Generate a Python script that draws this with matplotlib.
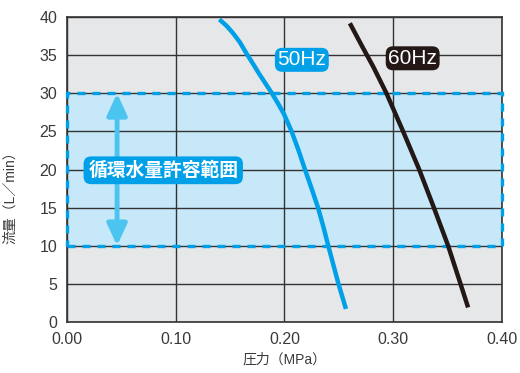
import matplotlib as mpl
mpl.use('Agg')
import matplotlib.pyplot as plt
from matplotlib.patches import Rectangle

plt.rcParams['font.family'] = ['Liberation Sans', 'Noto Sans CJK JP']

# pressure (MPa) vs flow (L/min)
p50 = [0.1401, 0.1465, 0.1527, 0.1590, 0.1652, 0.1710, 0.1770, 0.1830, 0.1885, 0.1940,
       0.1995, 0.2066, 0.2130, 0.2189, 0.2250, 0.2309, 0.2358, 0.2403, 0.2450, 0.2497, 0.2566]
q50 = [39.7, 38.9, 37.9, 36.7, 35.2, 33.9, 32.5, 31.2, 30.0, 28.7,
       27.3, 25.0, 22.5, 20.0, 17.5, 15.0, 12.5, 10.0, 7.5, 5.0, 1.7]
p60 = [0.2602, 0.2710, 0.2817, 0.2939, 0.3092, 0.3240, 0.3375, 0.3506, 0.3620, 0.3690]
q60 = [39.2, 36.3, 33.5, 30.0, 25.0, 20.0, 15.0, 10.0, 5.0, 1.9]

xticks = [0.0, 0.1, 0.2, 0.3, 0.4]
yticks = [0, 5, 10, 15, 20, 25, 30, 35, 40]
band = (10, 30)   # allowed circulating-water range

BLUE = '#00a0e9'
LIGHT = '#c6e8f8'
ARROW = '#4cc4f0'
GRAY = '#e6e7e8'
DARK = '#231815'
TXT = '#3a3a3a'

fig = plt.figure(figsize=(5.2, 3.73), dpi=100)
ax = fig.add_axes([0.129, 0.137, 0.836, 0.817])
ax.set_facecolor(GRAY)
ax.set_xlim(0, 0.4)
ax.set_ylim(0, 40)

ax.add_patch(Rectangle((0, band[0]), 0.4, band[1] - band[0], facecolor=LIGHT,
                       edgecolor='none', zorder=1))

ax.set_xticks(xticks)
ax.set_yticks(yticks)
ax.set_xticklabels(['%.2f' % t for t in xticks])
ax.grid(True, color='#333333', linewidth=1.0, zorder=2)
ax.set_axisbelow(False)
ax.tick_params(length=0, labelsize=11.5, colors=TXT, pad=7)
for s in ax.spines.values():
    s.set_color('#333333')
    s.set_linewidth(1.2)
    s.set_zorder(3)

ax.add_patch(Rectangle((0, band[0]), 0.4, band[1] - band[0], facecolor='none',
                       edgecolor=BLUE, linewidth=2.4, linestyle=(0, (2.4, 2.1)),
                       zorder=4, clip_on=False))

ax.annotate('', xy=(0.046, band[1]), xytext=(0.046, band[0]),
            arrowprops=dict(arrowstyle='<|-|>,head_length=1.3,head_width=0.6',
                            color=ARROW, lw=3.5, shrinkA=0, shrinkB=0), zorder=5)

ax.plot(p50, q50, color=BLUE, linewidth=3.2, solid_capstyle='butt', zorder=6)
ax.plot(p60, q60, color=DARK, linewidth=3.2, solid_capstyle='butt', zorder=6)

ax.text(0.216, 34.4, '50Hz', color='white', fontsize=15, ha='center', va='center',
        zorder=7, bbox=dict(boxstyle='round,pad=0.12,rounding_size=0.35', fc=BLUE, ec='none'))
ax.text(0.318, 34.6, '60Hz', color='white', fontsize=15, ha='center', va='center',
        zorder=7, bbox=dict(boxstyle='round,pad=0.12,rounding_size=0.35', fc=DARK, ec='none'))
ax.text(0.0885, 19.9, '循環水量許容範囲', color='white', fontsize=13.5, fontweight='bold',
        ha='center', va='center', zorder=7,
        bbox=dict(boxstyle='round,pad=0.25,rounding_size=0.4', fc=BLUE, ec='none'))

ax.set_xlabel('圧力（MPa）', fontsize=10, color=TXT, labelpad=4)
ax.set_ylabel('流量（L／min）', fontsize=10, color=TXT)
ax.yaxis.set_label_coords(-0.115, 0.42)

fig.savefig('out.png', dpi=100)
